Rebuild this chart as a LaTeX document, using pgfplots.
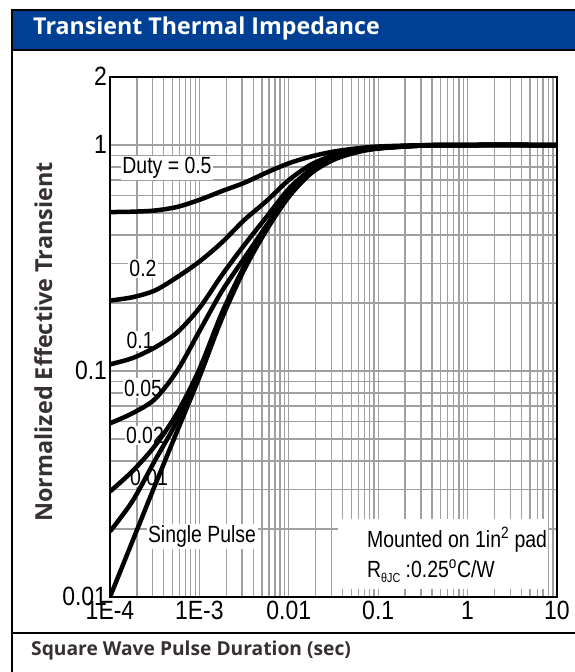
\documentclass[border=0pt]{standalone}
\usepackage{fontspec}
\setmainfont{Liberation Sans}
\newfontfamily\headfont{Open Sans}
\newfontfamily\tickfont{Liberation Sans}[FakeStretch=0.87]
\newfontfamily\narrowfont{Liberation Sans}[FakeStretch=0.83]
\usepackage{pgfplots}
\pgfplotsset{compat=1.18}
\definecolor{hdrblue}{RGB}{0,64,148}
\definecolor{gridgray}{RGB}{160,160,160}
\definecolor{txtgray}{RGB}{55,48,48}

\pgfplotstableread{
x y
1e-4 0.505
1.778e-4 0.507
3.162e-4 0.513
5.623e-4 0.532
1e-3 0.572
1.778e-3 0.625
3.162e-3 0.68
5.623e-3 0.755
0.01 0.83
0.01778 0.89
0.03162 0.935
0.05623 0.965
0.1 0.985
0.3162 0.998
1 1
10 1
}\dutyA
\pgfplotstableread{
x y
1e-4 0.205
1.778e-4 0.212
3.162e-4 0.227
5.623e-4 0.26
1e-3 0.305
1.778e-3 0.37
3.162e-3 0.465
5.623e-3 0.565
0.01 0.70
0.01778 0.82
0.03162 0.90
0.05623 0.95
0.1 0.978
0.3162 0.997
1 1
10 1
}\dutyB
\pgfplotstableread{
x y
1e-4 0.107
1.778e-4 0.114
3.162e-4 0.127
5.623e-4 0.148
1e-3 0.19
1.778e-3 0.265
3.162e-3 0.36
5.623e-3 0.48
0.01 0.64
0.01778 0.78
0.03162 0.88
0.05623 0.94
0.1 0.972
0.3162 0.996
1 1
10 1
}\dutyC
\pgfplotstableread{
x y
1e-4 0.0587
1.778e-4 0.065
3.162e-4 0.075
5.623e-4 0.10
1e-3 0.15
1.778e-3 0.225
3.162e-3 0.315
5.623e-3 0.44
0.01 0.61
0.01778 0.77
0.03162 0.875
0.05623 0.935
0.1 0.97
0.3162 0.995
1 1
10 1
}\dutyD
\pgfplotstableread{
x y
1e-4 0.0293
1.778e-4 0.036
3.162e-4 0.0465
5.623e-4 0.065
1e-3 0.102
1.778e-3 0.18
3.162e-3 0.29
5.623e-3 0.43
0.01 0.60
0.01778 0.76
0.03162 0.87
0.05623 0.932
0.1 0.968
0.3162 0.995
1 1
10 1
}\dutyE
\pgfplotstableread{
x y
1e-4 0.0195
1.778e-4 0.0265
3.162e-4 0.040
5.623e-4 0.060
1e-3 0.098
1.778e-3 0.175
3.162e-3 0.285
5.623e-3 0.425
0.01 0.595
0.01778 0.755
0.03162 0.865
0.05623 0.93
0.1 0.967
0.3162 0.995
1 1
10 1
}\dutyF
\pgfplotstableread{
x y
1e-4 0.010
1.778e-4 0.0176
3.162e-4 0.031
5.623e-4 0.054
1e-3 0.094
1.778e-3 0.17
3.162e-3 0.28
5.623e-3 0.42
0.01 0.59
0.01778 0.75
0.03162 0.86
0.05623 0.927
0.1 0.965
0.3162 0.995
1 1
10 1
}\single

\begin{document}
\begin{tikzpicture}
\useasboundingbox (0bp,0bp) rectangle (575bp,672bp);
\fill[hdrblue] (12bp,621bp) rectangle (590bp,663bp);
\draw[line width=2bp] (11bp,662bp) -- (590bp,662bp);
\draw[line width=2bp] (11bp,621.5bp) -- (590bp,621.5bp);
\draw[line width=2bp] (12bp,663bp) -- (12bp,-10bp);
\draw[line width=2bp] (12bp,38.5bp) -- (590bp,38.5bp);
\node[anchor=base west, inner sep=0, text=white, font=\headfont\bfseries\fontsize{23.3}{24}\selectfont] at (33bp,637bp) {Transient Thermal Impedance};
\node[anchor=base west, inner sep=0, text=txtgray, font=\headfont\bfseries\fontsize{19.3}{21}\selectfont] at (31bp,17bp) {Square Wave Pulse Duration (sec)};
\node[anchor=base, rotate=90, inner sep=0, text=txtgray, font=\headfont\bfseries\fontsize{23.5}{24}\selectfont] at (52bp,330bp) {Normalized Effective Transient};

\begin{axis}[
  at={(110bp,75bp)}, anchor=south west,
  scale only axis, width=447bp, height=520bp,
  xmode=log, ymode=log,
  xmin=1e-4, xmax=10, ymin=0.01, ymax=2,
  xtick={1e-4,1e-3,0.01,0.1,1,10},
  xticklabels={1E-4,1E-3,0.01,0.1,1,10},
  minor xtick={2e-4,3e-4,4e-4,5e-4,6e-4,7e-4,8e-4,9e-4,
    2e-3,3e-3,4e-3,5e-3,6e-3,7e-3,8e-3,9e-3,
    0.02,0.03,0.04,0.05,0.06,0.07,0.08,0.09,
    0.2,0.3,0.4,0.5,0.6,0.7,0.8,0.9,
    2,3,4,5,6,7,8,9},
  ytick={0.01,0.1,1},
  yticklabels={0.01,0.1,1},
  extra y ticks={2}, extra y tick labels={2},
  minor ytick={0.02,0.03,0.04,0.05,0.06,0.07,0.08,0.09,
    0.2,0.3,0.4,0.5,0.6,0.7,0.8,0.9},
  grid=both,
  major grid style={draw=gridgray, line width=1.3bp},
  minor grid style={draw=gridgray, line width=1.3bp},
  extra tick style={grid=none},
  major tick length=0pt, minor tick length=0pt,
  axis line style={line width=1.4bp, black},
  tick label style={font=\tickfont\fontsize{26.5}{26.5}\selectfont},
  /pgf/number format/assume math mode=true,
  xticklabel style={yshift=-1bp},
  yticklabel style={xshift=0.5bp, yshift=1bp},
]
\node[fill=white, inner sep=1.5bp, font=\narrowfont\fontsize{23.5}{24}\selectfont] at (axis cs:4.34e-4,0.79) {Duty = 0.5};
\node[fill=white, inner sep=1.5bp, font=\narrowfont\fontsize{23.5}{24}\selectfont] at (axis cs:2.34e-4,0.284) {0.2};
\node[fill=white, inner sep=1.5bp, font=\narrowfont\fontsize{23.5}{24}\selectfont] at (axis cs:2.17e-4,0.136) {0.1};
\node[fill=white, inner sep=1.5bp, font=\narrowfont\fontsize{23.5}{24}\selectfont] at (axis cs:2.34e-4,0.084) {0.05};
\node[fill=white, inner sep=1.5bp, font=\narrowfont\fontsize{23.5}{24}\selectfont] at (axis cs:2.46e-4,0.0519) {0.02};
\node[fill=white, inner sep=1.5bp, font=\narrowfont\fontsize{23.5}{24}\selectfont] at (axis cs:2.73e-4,0.0338) {0.01};
\node[fill=white, inner sep=1.5bp, font=\narrowfont\fontsize{23.5}{24}\selectfont] at (axis cs:1.07e-3,0.0185) {Single Pulse};
\fill[white] (axis cs:0.0355,0.01085) rectangle (axis cs:7.93,0.0222);
\node[anchor=base west, inner sep=0, font=\narrowfont\fontsize{23.5}{24}\selectfont] at (axis cs:0.0749,0.0165) {Mounted on 1in\textsuperscript{2} pad};
\node[anchor=base west, inner sep=0, font=\narrowfont\fontsize{23.5}{24}\selectfont] at (axis cs:0.0749,0.01215) {R\raisebox{-5bp}{\fontsize{13}{13}\selectfont θJC} :0.25\textsuperscript{o}C/W};
\addplot[black, line width=4.5bp, smooth] table {\dutyA};
\addplot[black, line width=4.5bp, smooth] table {\dutyB};
\addplot[black, line width=4.5bp, smooth] table {\dutyC};
\addplot[black, line width=4.5bp, smooth] table {\dutyD};
\addplot[black, line width=4.5bp, smooth] table {\dutyE};
\addplot[black, line width=4.5bp, smooth] table {\dutyF};
\addplot[black, line width=4.5bp, smooth] table {\single};
\end{axis}
\end{tikzpicture}
\end{document}
